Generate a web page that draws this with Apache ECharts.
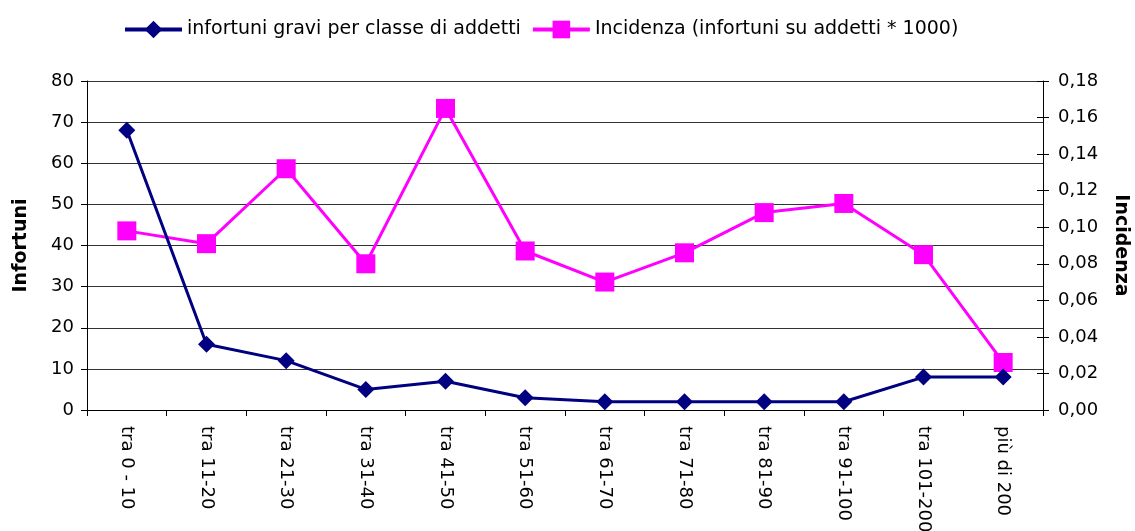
<!DOCTYPE html>
<html>
<head>
<meta charset="utf-8">
<script src="https://cdn.jsdelivr.net/npm/echarts@6/dist/echarts.min.js"></script>
<style>
    html, body { margin: 0; padding: 0; background: #fff; }
    #chart { width: 1135px; height: 531px; }
</style>
</head>
<body>
<div id="chart"></div>
<script>
// classi di addetti
var categories = ['tra 0 - 10', 'tra 11-20', 'tra 21-30', 'tra 31-40', 'tra 41-50', 'tra 51-60',
    'tra 61-70', 'tra 71-80', 'tra 81-90', 'tra 91-100', 'tra 101-200', 'più di 200'];
// infortuni gravi (asse sinistro)
var infortuni = [68, 16, 12, 5, 7, 3, 2, 2, 2, 2, 8, 8];
// incidenza (asse destro)
var incidenza = [0.098, 0.091, 0.132, 0.080, 0.165, 0.087, 0.070, 0.086, 0.108, 0.113, 0.085, 0.026];

var nomeInfortuni = 'infortuni gravi per classe di addetti';
var nomeIncidenza = 'Incidenza (infortuni su addetti * 1000)';

var myChart = echarts.init(document.getElementById('chart'));
var font = 'DejaVu Sans, Liberation Sans, sans-serif';
var option = {
    backgroundColor: '#fff',
    animation: false,
    textStyle: { fontFamily: font },
    legend: {
        top: 15,
        left: 118,
        itemWidth: 57,
        itemHeight: 22,
        itemGap: 10,
        lineStyle: { width: 4 },
        textStyle: { fontSize: 19, color: '#000', fontFamily: font },
        data: [nomeInfortuni, nomeIncidenza]
    },
    grid: {
        left: 87,
        right: 92,
        top: 81,
        bottom: 121,
        outerBoundsMode: 'none'
    },
    xAxis: {
        type: 'category',
        data: categories,
        boundaryGap: true,
        axisLine: { lineStyle: { color: '#000', width: 1 } },
        axisTick: { show: true, length: 6, lineStyle: { color: '#000' } },
        axisLabel: {
            interval: 0,
            rotate: -90,
            margin: 16,
            color: '#000',
            fontSize: 18,
            fontFamily: font
        }
    },
    yAxis: [{
        type: 'value',
        min: 0,
        max: 80,
        interval: 10,
        name: 'Infortuni',
        nameLocation: 'middle',
        nameGap: 56,
        nameTextStyle: { fontSize: 19, fontWeight: 'bold', color: '#000', fontFamily: font },
        axisLine: { show: true, lineStyle: { color: '#000' } },
        axisTick: { show: true, length: 6, lineStyle: { color: '#000' } },
        axisLabel: { color: '#000', fontSize: 18, margin: 13, fontFamily: font },
        splitLine: { show: true, lineStyle: { color: '#333', width: 1 } }
    }, {
        type: 'value',
        position: 'right',
        min: 0,
        max: 0.18,
        interval: 0.02,
        name: 'Incidenza',
        nameLocation: 'middle',
        nameRotate: -90,
        nameGap: 68,
        nameTextStyle: { fontSize: 19, fontWeight: 'bold', color: '#000', fontFamily: font },
        axisLine: { show: true, lineStyle: { color: '#000' } },
        axisTick: { show: true, length: 6, lineStyle: { color: '#000' } },
        axisLabel: {
            color: '#000',
            fontSize: 18,
            margin: 15,
            fontFamily: font,
            formatter: function (v) { return v.toFixed(2).replace('.', ','); }
        },
        splitLine: { show: false }
    }, {
        // tacche interne dell'asse destro
        type: 'value',
        position: 'right',
        min: 0,
        max: 0.18,
        interval: 0.02,
        axisLine: { show: false },
        axisTick: { show: true, inside: true, length: 6, lineStyle: { color: '#000' } },
        axisLabel: { show: false },
        splitLine: { show: false }
    }],
    series: [{
        name: nomeInfortuni,
        type: 'line',
        yAxisIndex: 0,
        data: infortuni,
        symbol: 'diamond',
        symbolSize: 17,
        color: '#000080',
        lineStyle: { color: '#000080', width: 3 },
        itemStyle: { color: '#000080' },
        z: 3
    }, {
        name: nomeIncidenza,
        type: 'line',
        yAxisIndex: 1,
        data: incidenza,
        symbol: 'rect',
        symbolSize: 19,
        color: '#ff00ff',
        lineStyle: { color: '#ff00ff', width: 3 },
        itemStyle: { color: '#ff00ff' },
        z: 2
    }]
};
myChart.setOption(option);
</script>
</body>
</html>
